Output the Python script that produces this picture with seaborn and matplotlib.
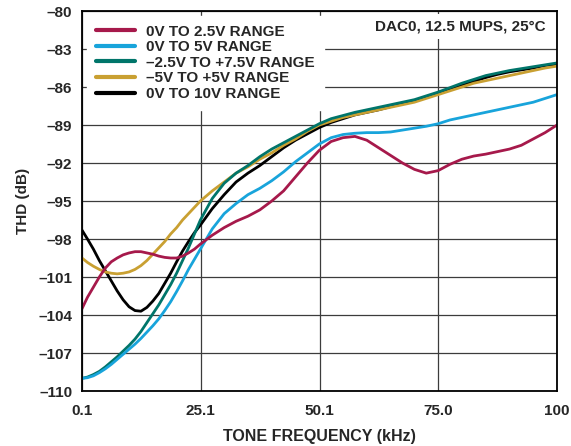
import pandas as pd
import matplotlib.pyplot as plt
import seaborn as sns

# ============================================
# Data
# ============================================

freq_khz = [0.1, 1.25, 2.5, 3.75, 5, 6.25, 7.5, 8.75, 10, 11.25, 12.5,
            13.75, 15, 16.25, 17.5, 18.75, 20, 21.25, 22.5, 23.75, 25,
            27.5, 30, 32.5, 35, 37.5, 40, 42.5, 45, 47.5, 50, 52.5, 55,
            57.5, 60, 62.5, 65, 67.5, 70, 72.5, 75, 77.5, 80, 82.5, 85,
            87.5, 90, 92.5, 95, 97.5, 100]

thd_0_2p5 = [-103.5, -102.6, -101.8, -101.0, -100.3, -99.8, -99.5, -99.25,
             -99.1, -99.0, -99.0, -99.1, -99.2, -99.35, -99.45, -99.5, -99.5,
             -99.35, -99.1, -98.8, -98.4,
             -97.7, -97.1, -96.6, -96.2, -95.7, -95.0, -94.2, -93.1, -92.0,
             -91.0, -90.3, -90.0, -89.9, -90.2, -90.8, -91.4, -92.0, -92.5,
             -92.8, -92.6, -92.1, -91.7, -91.45, -91.3, -91.1, -90.9, -90.6,
             -90.1, -89.6, -89.0]
thd_0_5 = [-109.0, -108.95, -108.8, -108.55, -108.25, -107.9, -107.5, -107.1,
           -106.7, -106.3, -105.85, -105.35, -104.85, -104.3, -103.65, -102.95,
           -102.15, -101.3, -100.4, -99.6, -98.8,
           -97.2, -96.0, -95.2, -94.5, -94.0, -93.4, -92.7, -91.9, -91.2,
           -90.5, -90.0, -89.75, -89.65, -89.6, -89.6, -89.55, -89.4, -89.25,
           -89.1, -88.9, -88.6, -88.4, -88.2, -88.0, -87.8, -87.6, -87.4,
           -87.2, -86.9, -86.6]
thd_m2p5_7p5 = [-109.0, -108.9, -108.7, -108.45, -108.1, -107.7, -107.3,
                -106.85, -106.4, -105.9, -105.3, -104.6, -103.9, -103.2,
                -102.4, -101.6, -100.7, -99.7, -98.7, -97.6, -96.5,
                -94.8, -93.6, -92.8, -92.2, -91.5, -90.9, -90.4, -89.9, -89.4,
                -88.9, -88.5, -88.25, -88.0, -87.8, -87.6, -87.4, -87.2, -87.0,
                -86.7, -86.4, -86.05, -85.7, -85.4, -85.1, -84.9, -84.7,
                -84.55, -84.4, -84.25, -84.1]
thd_m5_5 = [-99.5, -99.85, -100.15, -100.4, -100.6, -100.7, -100.75, -100.7,
            -100.6, -100.4, -100.1, -99.7, -99.2, -98.7, -98.2, -97.6, -97.1,
            -96.5, -96.0, -95.5, -95.0,
            -94.2, -93.5, -92.8, -92.3, -91.7, -91.2, -90.6, -90.1, -89.5,
            -89.0, -88.7, -88.4, -88.2, -88.0, -87.8, -87.6, -87.4, -87.2,
            -86.9, -86.6, -86.3, -86.0, -85.7, -85.5, -85.3, -85.1, -84.9,
            -84.7, -84.5, -84.35]
thd_0_10 = [-97.3, -98.0, -98.8, -99.7, -100.5, -101.3, -102.1, -102.8,
            -103.35, -103.65, -103.7, -103.4, -102.9, -102.3, -101.5, -100.7,
            -99.8, -98.95, -98.2, -97.5, -96.9,
            -95.6, -94.5, -93.5, -92.8, -92.2, -91.5, -90.8, -90.2, -89.7,
            -89.2, -88.8, -88.5, -88.2, -88.0, -87.8, -87.55, -87.3, -87.1,
            -86.8, -86.5, -86.15, -85.85, -85.55, -85.25, -85.0, -84.8,
            -84.65, -84.5, -84.3, -84.2]

range_labels = ["0V TO 2.5V RANGE", "0V TO 5V RANGE", "\u20132.5V TO +7.5V RANGE",
                "\u20135V TO +5V RANGE", "0V TO 10V RANGE"]
range_colors = ["#A6194B", "#18A4DB", "#00756A", "#C9A032", "#000000"]

x_ticks = [0.1, 25.1, 50.1, 75.0, 100]
x_tick_labels = ["0.1", "25.1", "50.1", "75.0", "100"]
y_ticks = [-110, -107, -104, -101, -98, -95, -92, -89, -86, -83, -80]

# ============================================
# Build long-form table
# ============================================

series = [thd_0_2p5, thd_0_5, thd_m2p5_7p5, thd_m5_5, thd_0_10]
df = pd.concat(
    [pd.DataFrame({"freq": freq_khz, "thd": vals, "range": lab})
     for lab, vals in zip(range_labels, series)],
    ignore_index=True
)

# ============================================
# Plot
# ============================================

sns.set_style("white")
plt.rcParams["font.family"] = ["Liberation Sans", "DejaVu Sans"]
plt.rcParams["font.weight"] = "bold"

fig = plt.figure(figsize=(5.71, 4.46), dpi=100)
ax = fig.add_axes([0.1436, 0.1233, 0.8319, 0.852])

# draw order so that teal sits on black/gold, like the original
draw_order = [4, 3, 2, 1, 0]
for i in draw_order:
    sub = df[df["range"] == range_labels[i]]
    sns.lineplot(data=sub, x="freq", y="thd", color=range_colors[i],
                 linewidth=2.0, ax=ax, estimator=None, label=range_labels[i])

ax.set_xlim(0.1, 100)
ax.set_ylim(-110, -80)
ax.set_xticks(x_ticks)
ax.set_xticklabels(x_tick_labels)
ax.set_yticks(y_ticks)
ax.set_yticklabels([f"\u2013{abs(v)}" for v in y_ticks])
ax.tick_params(axis="both", length=0, labelsize=11)
ax.tick_params(axis="x", pad=9)
ax.tick_params(axis="y", pad=7)

ax.grid(True, color="#3c3c3c", linewidth=0.9)
for sp in ax.spines.values():
    sp.set_color("black")
    sp.set_linewidth(1.3)

ax.set_xlabel("TONE FREQUENCY (kHz)", fontsize=11.5, fontweight="bold", labelpad=8)
ax.set_ylabel("THD (dB)", fontsize=11, fontweight="bold", labelpad=6)

# legend in original order
h, l = ax.get_legend_handles_labels()
lut = dict(zip(l, h))
leg = ax.legend([lut[k] for k in range_labels], range_labels,
                loc="upper left", bbox_to_anchor=(0.0, 1.0),
                borderaxespad=0.3, frameon=True, fancybox=False,
                framealpha=1, edgecolor="white", facecolor="white",
                fontsize=11, handlelength=2.6, handletextpad=0.7,
                labelspacing=0.1, borderpad=0.6)
for line in leg.get_lines():
    line.set_linewidth(3)
leg.set_zorder(5)

ax.text(0.975, 0.96, "DAC0, 12.5 MUPS, 25\u00b0C", transform=ax.transAxes,
        ha="right", va="center", fontsize=11, fontweight="bold", zorder=6,
        bbox=dict(facecolor="white", edgecolor="none", pad=4))

plt.savefig("out.png", dpi=100)
